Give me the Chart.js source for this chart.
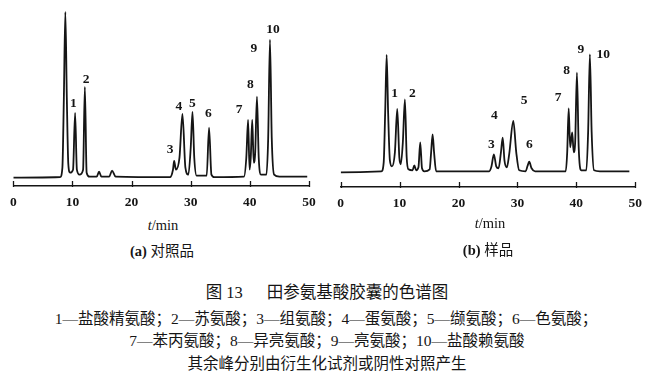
<!DOCTYPE html>
<html><head><meta charset="utf-8">
<script src="https://cdn.jsdelivr.net/npm/chart.js@4"></script>
<style>
html,body{margin:0;padding:0;background:#fff;width:650px;height:377px;overflow:hidden;position:relative}
canvas{position:absolute;top:0}
.t{position:absolute;width:600px;text-align:center;white-space:nowrap;color:#151515;font-family:"Liberation Serif","Noto Sans CJK SC",serif}
</style></head><body>
<canvas id="ca" width="325" height="215" style="left:0"></canvas>
<canvas id="cb" width="325" height="215" style="left:325px"></canvas>
<div class="t" style="left:-137px;top:216px;font-size:14.5px;line-height:18px"><i>t</i>/min</div>
<div class="t" style="left:190px;top:214px;font-size:14.5px;line-height:18px"><i>t</i>/min</div>
<div class="t" style="left:-138px;top:241px;font-size:14.5px;line-height:18px"><b>(a)</b> <span style="font-family:'Noto Sans CJK SC'">对照品</span></div>
<div class="t" style="left:188px;top:240px;font-size:14.5px;line-height:18px"><b>(b)</b> <span style="font-family:'Noto Sans CJK SC'">样品</span></div>
<div class="t" style="left:27px;top:283px;font-size:16.5px;line-height:20px;font-family:'Liberation Serif','Noto Sans CJK SC'">图 13<span style="display:inline-block;width:24px"></span>田参氨基酸胶囊的色谱图</div>
<div class="t" style="left:26px;top:309px;font-size:15.5px;line-height:19px">1—盐酸精氨酸；2—苏氨酸；3—组氨酸；4—蛋氨酸；5—缬氨酸；6—色氨酸；</div>
<div class="t" style="left:27px;top:331px;font-size:15.5px;line-height:19px">7—苯丙氨酸；8—异亮氨酸；9—亮氨酸；10—盐酸赖氨酸</div>
<div class="t" style="left:27px;top:354px;font-size:15.5px;line-height:19px">其余峰分别由衍生化试剂或阴性对照产生</div>
<script>
// ---- data (time in min, signal in arbitrary units) ----
const timeA = [0, 7.9, 8.3, 8.55, 8.8, 9.05, 9.3, 9.6, 10.1, 10.45, 10.75, 11.2, 11.8, 12.1, 12.4, 12.9,
  14.1, 14.5, 14.9, 16.2, 16.7, 17.3, 26.5, 27.0, 27.2, 27.5, 28.1, 28.6, 29.1, 29.6, 30.0, 30.3, 30.6, 31.0,
  32.7, 33.1, 33.5, 34.0, 39.0, 39.4, 39.7, 39.95, 40.15, 40.4, 40.65, 40.9, 41.2, 41.5, 41.9, 42.8, 43.1,
  43.4, 43.7, 44.1, 45.0, 49.7];
const signalA = [0, 0.5, 10, 80, 165.7, 80, 14, 5, 8, 64.7, 8, 3, 8, 90.7, 5, 1,
  1, 6, 1, 1, 7, 1, 0.5, 8, 16.7, 8, 20, 63.7, 10, 3, 30, 65.7, 20, 2,
  2, 50, 3, 0.5, 1, 20, 57.7, 8, 20, 57.7, 15, 25, 81, 20, 3, 3, 40,
  138, 40, 3, 1, 1];
const timeB = [0, 6.9, 7.3, 7.55, 7.8, 8.05, 8.35, 8.7, 9.2, 9.6, 9.95, 10.2, 10.55, 10.9, 11.2, 11.5,
  12.2, 12.5, 12.8, 13.2, 13.5, 13.8, 14.2, 15.1, 15.35, 15.6, 15.85, 16.2, 25.2, 25.6, 26.0, 26.4, 26.8,
  27.2, 27.5, 27.8, 28.2, 28.6, 29.3, 29.8, 30.3, 31.4, 31.7, 32.0, 32.4, 33.0, 38.2, 38.45, 38.7, 38.95,
  39.3, 39.55, 39.8, 40.1, 40.4, 40.8, 41.7, 42.0, 42.3, 42.6, 43.0, 44.0, 49.0];
const signalB = [0, 1, 10, 60, 117.3, 60, 12, 6, 20, 63.3, 15, 8, 30, 73, 15, 3,
  2, 7, 2, 5, 30, 4, 1, 3, 20, 38, 20, 1, 1, 6, 18, 6, 4,
  20, 34.6, 12, 5, 18, 51.3, 20, 2, 1, 6, 10.6, 4, 1, 1, 20, 64, 25,
  40, 20, 30, 99.6, 25, 2, 2, 40, 118, 40, 2, 1, 1];
const xTicks = [0, 10, 20, 30, 40, 50];
const peakNames = ['1', '2', '3', '4', '5', '6', '7', '8', '9', '10'];
const labelTimeA = [10.15, 12.3, 26.5, 28.0, 30.3, 33.0, 38.2, 40.1, 40.7, 43.9];
const labelHeightA = [74.4, 97.7, 27.7, 70.7, 74.4, 64.4, 68.4, 92.7, 129.4, 147.7];
const labelTimeB = [9.17, 12.16, 25.57, 26.08, 31.12, 32.02, 36.89, 38.37, 40.75, 44.58];
const labelHeightB = [78.3, 78.3, 27.3, 56.3, 71.3, 27.3, 75, 101.3, 122.3, 117.3];

const INK = '#151515';
const peakLabels = {
  id: 'peakLabels',
  afterDatasetsDraw(chart, args, opts) {
    const {ctx, scales: {x, y}} = chart;
    ctx.save();
    ctx.fillStyle = INK;
    ctx.font = 'bold 13.5px "Liberation Serif"';
    ctx.textAlign = 'center';
    ctx.textBaseline = 'middle';
    opts.times.forEach((t, i) => {
      ctx.fillText(peakNames[i], x.getPixelForValue(t), y.getPixelForValue(opts.heights[i]));
    });
    ctx.restore();
  }
};
const upTicks = {
  id: 'upTicks',
  afterDraw(chart) {
    const {ctx, scales: {x}} = chart;
    const yb = chart.chartArea.bottom;
    ctx.save();
    ctx.strokeStyle = INK;
    ctx.lineWidth = 1.3;
    x.ticks.forEach(tk => {
      const px = Math.round(x.getPixelForValue(tk.value)) + 0.5;
      ctx.beginPath();
      ctx.moveTo(px, yb + 1);
      ctx.lineTo(px, yb - 5);
      ctx.stroke();
    });
    ctx.restore();
  }
};

function makeChart(id, times, signal, padL, padR, yMin, yMax, axisH, lt, lh) {
  return new Chart(document.getElementById(id), {
    type: 'line',
    data: { datasets: [{
      data: times.map((t, i) => ({x: t, y: signal[i]})),
      borderColor: INK, borderWidth: 1.8, pointRadius: 0,
      cubicInterpolationMode: 'monotone', fill: false
    }]},
    options: {
      responsive: false, animation: false, devicePixelRatio: 1,
      layout: { padding: { left: padL, right: padR, top: 0, bottom: 0 } },
      plugins: { legend: {display: false}, tooltip: {enabled: false},
        peakLabels: { times: lt, heights: lh } },
      scales: {
        x: { type: 'linear', min: 0, max: 50,
          afterBuildTicks: s => { s.ticks = xTicks.map(v => ({value: v})); },
          afterFit: s => { s.height = axisH; },
          grid: { display: false, drawTicks: false },
          border: { display: true, color: INK, width: 1.4 },
          ticks: { padding: 8, color: INK, maxRotation: 0, autoSkip: false,
            font: { family: 'Liberation Serif', size: 13.5, weight: 'bold' } } },
        y: { display: false, min: yMin, max: yMax }
      }
    },
    plugins: [peakLabels, upTicks]
  });
}
makeChart('ca', timeA, signalA, 13.3, 16, -8.3, 177.7, 29, labelTimeA, labelHeightA);
makeChart('cb', timeB, signalB, 15.7, 14.7, -14.7, 172.3, 28, labelTimeB, labelHeightB);
</script>
</body></html>
